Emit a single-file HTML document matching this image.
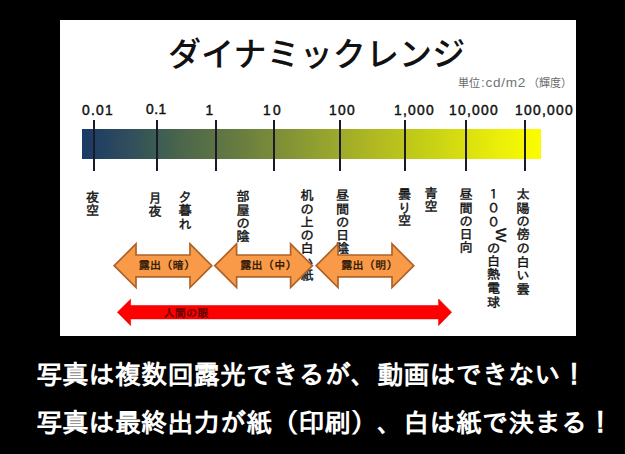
<!DOCTYPE html>
<html lang="ja">
<head>
<meta charset="utf-8">
<style>
html,body{margin:0;padding:0;}
*{text-spacing-trim:space-all;}
body{width:625px;height:454px;background:#000;position:relative;overflow:hidden;font-family:"Liberation Sans","Noto Sans CJK JP",sans-serif;}
.panel{position:absolute;left:60px;top:20px;width:516.3px;height:315.5px;background:#fff;}
.abs{position:absolute;white-space:nowrap;}
.title{left:168px;top:31px;font-size:33px;font-weight:500;color:#111;font-family:"Liberation Sans","Noto Sans CJK JP",sans-serif;line-height:48px;letter-spacing:0.1px;}
.unit{top:75.2px;font-size:11px;color:#6a6a6a;line-height:16px;}
.ul{font-size:13.6px;letter-spacing:0.7px;margin-top:-0.6px;color:#737373;}
.num{top:102.2px;font-size:13.8px;font-weight:normal;color:#111;line-height:18px;letter-spacing:1.3px;-webkit-text-stroke:0.45px #111;}
.bar{position:absolute;left:81.5px;top:128.5px;width:459.5px;height:30px;background:linear-gradient(to right,#1B3B68 0%,#1C3C64 1.2%,#2D4A5E 8.6%,#3A5A54 15.3%,#4C674B 22.1%,#6A7E3E 35.1%,#8A9A33 48.2%,#B0B822 63.4%,#C8D214 76.5%,#E8EC0A 89.5%,#FAFA00 98.2%,#FCFC00 100%);}
.tick{position:absolute;top:120px;width:2px;height:50.6px;background:#1a1a2a;}
.v{position:absolute;writing-mode:vertical-rl;font-size:13.2px;font-weight:normal;-webkit-text-stroke:0.4px #111;color:#111;line-height:14px;white-space:nowrap;font-family:"Liberation Sans","IPAGothic",sans-serif;letter-spacing:0.2px;}
.bottom{left:36px;font-size:26.2px;letter-spacing:0.05px;font-weight:bold;color:#fff;line-height:30px;font-family:"Liberation Sans","IPAGothic",sans-serif;}
.lab{font-size:11px;letter-spacing:0.3px;color:#2a1505;line-height:14px;font-weight:normal;-webkit-text-stroke:0.35px #2a1505;font-family:"Liberation Sans","IPAGothic",sans-serif;}
</style>
</head>
<body>
<div class="panel"></div>
<div class="abs title">ダイナミックレンジ</div>
<div class="abs unit" style="left:458px">単位</div><div class="abs unit ul" style="left:481px">:cd/m2</div><div class="abs unit" style="left:528px">（輝度）</div>

<div class="abs num" style="left:82px">0.01</div>
<div class="abs num" style="left:146px;letter-spacing:0.5px;top:101px">0.1</div>
<div class="abs num" style="left:205.5px">1</div>
<div class="abs num" style="left:263px;letter-spacing:2.4px">10</div>
<div class="abs num" style="left:329px">100</div>
<div class="abs num" style="left:394px">1,000</div>
<div class="abs num" style="left:449px">10,000</div>
<div class="abs num" style="left:515px">100,000</div>

<div class="bar"></div>
<div class="tick" style="left:92.5px"></div>
<div class="tick" style="left:156.0px"></div>
<div class="tick" style="left:215.1px"></div>
<div class="tick" style="left:273.0px"></div>
<div class="tick" style="left:338.5px"></div>
<div class="tick" style="left:404.3px"></div>
<div class="tick" style="left:464.7px"></div>
<div class="tick" style="left:524.2px"></div>

<div class="v" style="left:84.5px;top:190px">夜空</div>
<div class="v" style="left:147px;top:190.5px">月夜</div>
<div class="v" style="left:177px;top:190px">夕暮れ</div>
<div class="v" style="left:235px;top:189px">部屋の陰</div>
<div class="v" style="left:299px;top:188px">机の上の白い紙</div>
<div class="v" style="left:334.5px;top:188px">昼間の日陰</div>
<div class="v" style="left:396.5px;top:186.5px">曇り空</div>
<div class="v" style="left:423px;top:186px">青空</div>
<div class="v" style="left:458px;top:187px">昼間の日向</div>
<div class="v" style="left:485.5px;top:186.7px;letter-spacing:0.45px"><span>１００</span><span style="position:relative;left:8.5px;font-size:15px;font-weight:normal;-webkit-text-stroke:0.4px #111;letter-spacing:-1.8px">W</span>の白熱電球</div>
<div class="v" style="left:515px;top:187px;letter-spacing:0.35px">太陽の傍の白い雲</div>

<svg class="abs" style="left:0;top:0" width="625" height="454" viewBox="0 0 625 454">
  <g fill="#F89A48" stroke="#AD6329" stroke-width="1.7" stroke-linejoin="miter">
    <polygon points="114.2,265.7 136.0,243.9 136.0,255.0 190.0,255.0 190.0,243.9 211.8,265.7 190.0,287.5 190.0,276.8 136.0,276.8 136.0,287.5"/>
    <polygon points="214.8,265.7 236.6,243.9 236.6,255.0 290.6,255.0 290.6,243.9 312.4,265.7 290.6,287.5 290.6,276.8 236.6,276.8 236.6,287.5"/>
    <polygon points="316.2,265.7 338.0,243.9 338.0,255.0 392.0,255.0 392.0,243.9 413.8,265.7 392.0,287.5 392.0,276.8 338.0,276.8 338.0,287.5"/>
  </g>
  <polygon fill="#FF0000" stroke="#E80000" stroke-width="0.6" points="117.4,312.2 130.6,299.2 130.6,305.6 438.6,305.6 438.6,299.0 451.6,312.2 438.6,325.6 438.6,318.9 130.6,318.9 130.6,325.5"/>
</svg>

<div class="abs lab" style="left:138.8px;top:258px">露出（暗）</div>
<div class="abs lab" style="left:240.3px;top:258px">露出（中）</div>
<div class="abs lab" style="left:341.3px;top:258px">露出（明）</div>
<div class="abs lab" style="left:163.5px;top:306px;color:#5a0000;-webkit-text-stroke-color:#5a0000;">人間の眼</div>

<div class="abs bottom" style="top:360px">写真は複数回露光できるが、動画はできない！</div>
<div class="abs bottom" style="top:408px">写真は最終出力が紙（印刷）、白は紙で決まる！</div>
</body>
</html>
